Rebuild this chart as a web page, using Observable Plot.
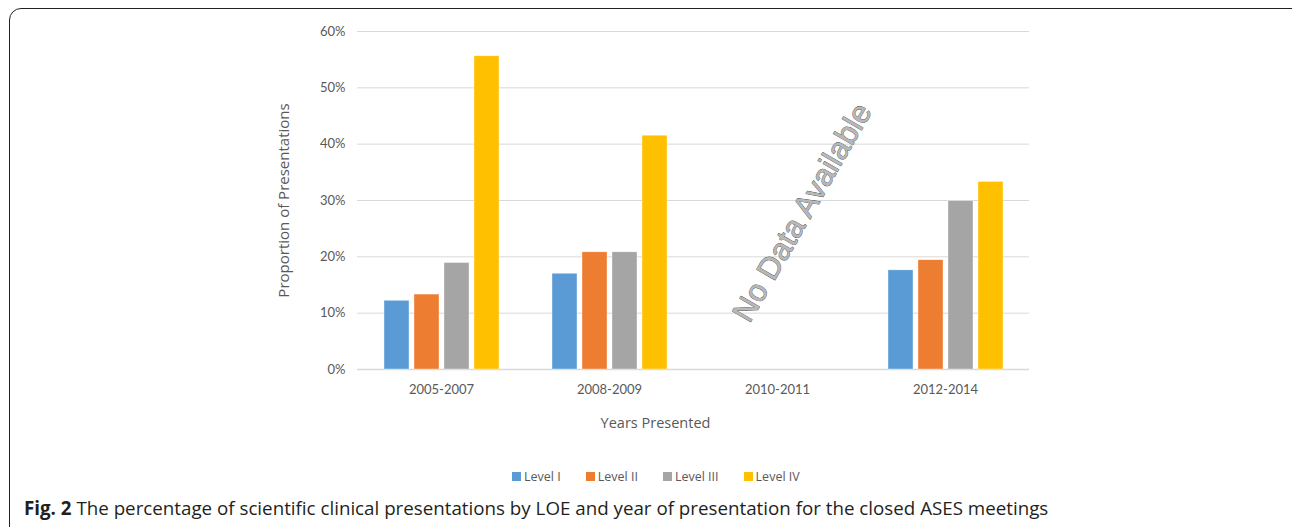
<!DOCTYPE html>
<html>
<head>
<meta charset="utf-8">
<script src="https://cdn.jsdelivr.net/npm/d3@7"></script>
<script src="https://cdn.jsdelivr.net/npm/@observablehq/plot@0.6"></script>
<style>
  html, body { margin: 0; padding: 0; background: #fff; }
  body { width: 1292px; height: 527px; position: relative; overflow: hidden; font-family: "Open Sans", sans-serif; }
  #frame { position: absolute; left: 9px; top: 8px; width: 1310px; height: 540px; border: 1.6px solid #222; border-radius: 12px; box-sizing: border-box; }
  #chart { position: absolute; left: 0; top: 0; }
  #legend { position: absolute; left: 512px; top: 468px; font-size: 12.5px; color: #595959; font-family: "Open Sans", sans-serif; white-space: nowrap; }
  #legend span.item { margin-right: 25px; }
  #legend span.sw { display: inline-block; width: 9px; height: 9px; margin-right: 3px; }
  #caption { position: absolute; left: 24px; top: 495px; font-size: 18.75px; color: #231f20; white-space: nowrap; }
  #caption b { font-weight: 700; }
</style>
</head>
<body>
<div id="frame"></div>
<div id="chart"></div>
<div id="legend"></div>
<div id="caption"><b>Fig. 2</b> The percentage of scientific clinical presentations by LOE and year of presentation for the closed ASES meetings</div>
<script>
const periods = ["2005-2007", "2008-2009", "2010-2011", "2012-2014"];
const levels = ["Level I", "Level II", "Level III", "Level IV"];
const levelColors = ["#5b9bd5", "#ed7d31", "#a5a5a5", "#ffc000"];
const level1 = [12.2, 17.0, null, 17.6];
const level2 = [13.3, 20.8, null, 19.4];
const level3 = [18.9, 20.8, null, 29.9];
const level4 = [55.6, 41.5, null, 33.3];
const yTicks = [0, 10, 20, 30, 40, 50, 60];
const yLabel = "Proportion of Presentations";
const xLabel = "Years Presented";
const noDataPeriod = "2010-2011";
const noDataText = "No Data Available";

const series = [level1, level2, level3, level4];
const data = [];
periods.forEach((p, i) => {
  levels.forEach((l, j) => {
    const v = series[j][i];
    if (v != null) data.push({period: p, level: l, value: v});
  });
});

const chart = Plot.plot({
  width: 1292,
  height: 440,
  marginTop: 31,
  marginBottom: 71,
  marginLeft: 355,
  marginRight: 262,
  style: {fontFamily: "Lato, 'Open Sans', sans-serif", color: "#595959", background: "transparent"},
  fx: {domain: periods, padding: 0},
  x: {domain: levels, paddingInner: 0.17, paddingOuter: 0.87, axis: null},
  y: {domain: [0, 60], axis: null},
  color: {domain: levels, range: levelColors},
  marks: [
    Plot.gridY(yTicks, {stroke: "#d9d9d9", strokeOpacity: 1, strokeWidth: 1}),
    Plot.ruleY([0], {stroke: "#d9d9d9", strokeWidth: 1.5}),
    Plot.barY(data, {fx: "period", x: "level", y: "value", fill: "level", stroke: "#fff", strokeWidth: 0.6, strokeOpacity: 0.6}),
    Plot.axisY(yTicks, {tickSize: 0, tickPadding: 12, tickFormat: d => d + "%", fontSize: 13, label: null, fill: "#595959"}),
    Plot.axisFx({anchor: "bottom", tickSize: 0, tickPadding: 15, fontSize: 13, label: null, fill: "#595959"}),
    Plot.text([{period: periods[0], label: yLabel}], {
      fx: "period", text: "label", frameAnchor: "left", textAnchor: "middle", dx: -73, rotate: -90,
      fontSize: 15, fontFamily: "'Open Sans', sans-serif", fill: "#595959"
    }),
    Plot.text([{period: periods[1], label: xLabel}], {
      fx: "period", text: "label", frameAnchor: "bottom-right", textAnchor: "middle", dx: -38, dy: 58,
      fontSize: 14.5, fontFamily: "'Open Sans', sans-serif", fill: "#595959"
    }),
    Plot.text([{period: noDataPeriod, label: noDataText}], {
      fx: "period", text: "label", frameAnchor: "middle", dx: 25, dy: 12, rotate: -60,
      fontSize: 31, fontFamily: "'Liberation Sans', Arial, sans-serif",
      fill: "#b8b8b8", stroke: "#505050", strokeWidth: 0.8
    })
  ]
});
document.getElementById("chart").appendChild(chart);

const legend = document.getElementById("legend");
levels.forEach((l, i) => {
  const item = document.createElement("span");
  item.className = "item";
  const sw = document.createElement("span");
  sw.className = "sw";
  sw.style.background = levelColors[i];
  item.appendChild(sw);
  item.appendChild(document.createTextNode(l));
  legend.appendChild(item);
});
</script>
</body>
</html>
